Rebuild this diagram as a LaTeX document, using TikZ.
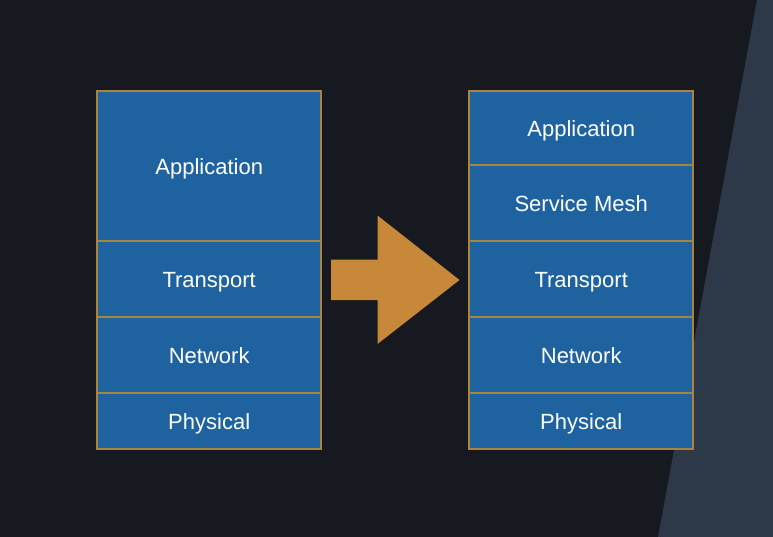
\documentclass[tikz,border=0pt]{standalone}
\usepackage{fontspec}
\setmainfont{Liberation Sans}
\definecolor{bgdark}{HTML}{16191F}
\definecolor{slate}{HTML}{2D3949}
\definecolor{boxblue}{HTML}{1F62A0}
\definecolor{gold}{HTML}{A8843F}
\definecolor{arrowor}{HTML}{C8883A}
\begin{document}
\begin{tikzpicture}[x=1pt,y=-1pt,
  layerbox/.style={fill=boxblue, text=white,
    font=\fontsize{22}{26}\selectfont, minimum width=224pt, inner sep=0pt,
    text height=15.75pt, text depth=0pt,
    anchor=north west, rectangle},
  edgeline/.style={draw=gold, line width=2pt}]
\fill[bgdark] (0,0) rectangle (773,537);
\useasboundingbox (0,0) rectangle (773,537);
\fill[slate] (757,0) -- (773,0) -- (773,537) -- (658,537) -- cycle;
% left stack
\node[layerbox, minimum height=150pt] (lapp) at (97,91) {Application};
\node[layerbox, minimum height=76pt] (ltra) at (97,241) {Transport};
\node[layerbox, minimum height=76pt] (lnet) at (97,317) {Network};
\node[layerbox, minimum height=56pt] (lphy) at (97,393) {Physical};
% right stack
\node[layerbox, minimum height=74pt] (rapp) at (469,91) {Application};
\node[layerbox, minimum height=76pt] (rmesh) at (469,165) {Service Mesh};
\node[layerbox, minimum height=76pt] (rtra) at (469,241) {Transport};
\node[layerbox, minimum height=76pt] (rnet) at (469,317) {Network};
\node[layerbox, minimum height=56pt] (rphy) at (469,393) {Physical};
% borders
\foreach \n in {lapp,ltra,lnet,lphy,rapp,rmesh,rtra,rnet,rphy}
  \draw[edgeline] (\n.north west) rectangle (\n.south east);
% arrow
\fill[arrowor] (331,259.5) -- (377.5,259.5) -- (377.5,215.5) -- (459.5,280)
  -- (377.5,344) -- (377.5,300) -- (331,300) -- cycle;
\end{tikzpicture}
\end{document}
